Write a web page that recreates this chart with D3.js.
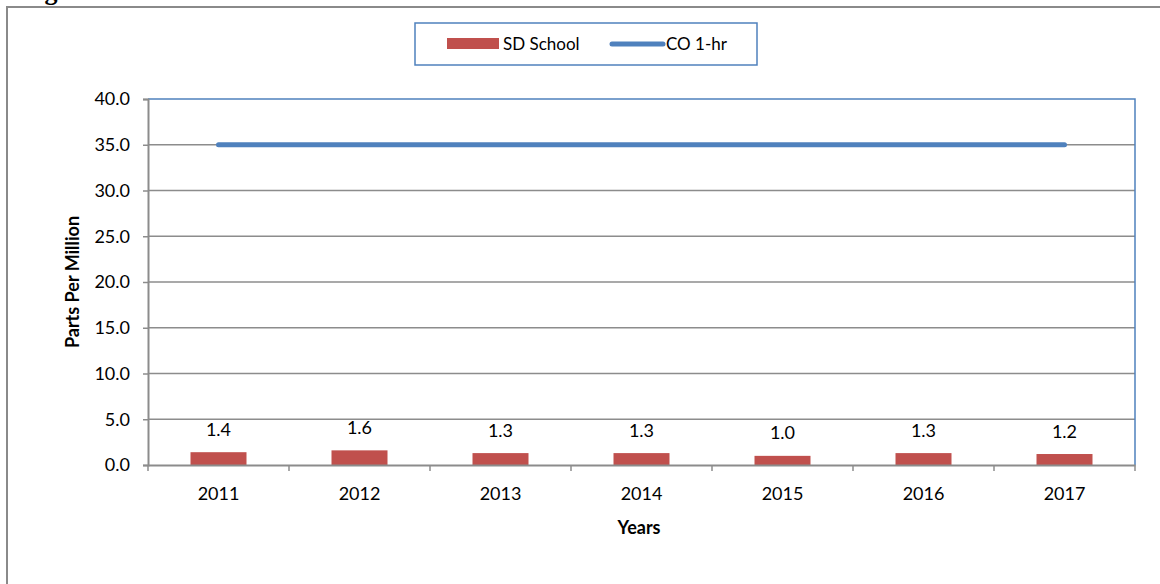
<!DOCTYPE html>
<html><head><meta charset="utf-8">
<script src="https://cdn.jsdelivr.net/npm/d3@7"></script>
<style>body{margin:0;background:#fff}svg{display:block}</style>
</head><body><svg id="c" width="1160" height="584"></svg>
<script>
const years = ["2011","2012","2013","2014","2015","2016","2017"];
const sdSchool = [1.4, 1.6, 1.3, 1.3, 1.0, 1.3, 1.2];
const coStandard = [35, 35, 35, 35, 35, 35, 35];
const yTicks = [0, 5, 10, 15, 20, 25, 30, 35, 40];
const seriesNames = ["SD School", "CO 1-hr"];
const titleText = "Figure 4-1   Carbon Monoxide 1-Hour Concentrations";

const svg = d3.select("#c");
const font = "Lato, 'Open Sans', sans-serif";
const red = "#C0504D", blue = "#4F81BD", grid = "#8C8C8C";
const L = 148, R = 1135, T = 99, B = 465;

// cut-off title (as in the reference, only its lower edge shows)
svg.append("text").attr("x", 15).attr("y", 0.3).attr("font-family", "'Liberation Serif', serif")
  .attr("font-weight", "bold").attr("font-size", 26).attr("fill", "#000")
  .attr("textLength", 740).attr("lengthAdjust", "spacing").text(titleText);

// outer frame
svg.append("rect").attr("x", 7).attr("y", 7).attr("width", 1200).attr("height", 700)
  .attr("fill", "none").attr("stroke", "#8a8a8a").attr("stroke-width", 2);

const x = d3.scaleBand().domain(years).range([L, R]);
const y = d3.scaleLinear().domain([0, 40]).range([B, T]);

// gridlines
svg.append("g").selectAll("line").data(yTicks.filter(d => d > 0 && d < 40)).join("line")
  .attr("x1", L).attr("x2", R).attr("y1", d => y(d)).attr("y2", d => y(d))
  .attr("stroke", grid).attr("stroke-width", 1.5);

// plot area border top/right (blue)
svg.append("path").attr("d", `M${L},${y(40)}H${R}V${B}`).attr("fill", "none")
  .attr("stroke", blue).attr("stroke-width", 1.5);

// y axis
const yAxis = svg.append("g").attr("transform", `translate(${L},0)`)
  .call(d3.axisLeft(y).tickValues(yTicks).tickFormat(d3.format(".1f")).tickSize(5).tickPadding(13));
yAxis.select(".domain").attr("stroke", grid).attr("stroke-width", 2);
yAxis.selectAll(".tick line").attr("stroke", grid).attr("stroke-width", 1.5);
yAxis.selectAll("text").attr("font-family", font).attr("font-size", 18).attr("fill", "#000");

// bars
svg.append("g").selectAll("rect").data(sdSchool).join("rect")
  .attr("x", (d, i) => x(years[i]) + x.bandwidth() / 2 - 28)
  .attr("width", 56)
  .attr("y", d => y(d)).attr("height", d => B - y(d))
  .attr("fill", red);

// x axis
const xAxis = svg.append("g").attr("transform", `translate(0,${B})`)
  .call(d3.axisBottom(x).tickSize(0).tickPadding(22));
xAxis.select(".domain").attr("stroke", grid).attr("stroke-width", 2);
xAxis.selectAll("text").attr("font-family", font).attr("font-size", 18).attr("fill", "#000");
const bounds = years.map(d => x(d)).concat([R]);
svg.append("g").selectAll("line").data(bounds).join("line")
  .attr("x1", d => d).attr("x2", d => d).attr("y1", B).attr("y2", B + 6)
  .attr("stroke", grid).attr("stroke-width", 1.5);

// data labels
svg.append("g").selectAll("text").data(sdSchool).join("text")
  .attr("x", (d, i) => x(years[i]) + x.bandwidth() / 2)
  .attr("y", d => y(d) - 16.5)
  .attr("text-anchor", "middle").attr("font-family", font).attr("font-size", 18).attr("fill", "#000")
  .text(d => d3.format(".1f")(d));

// standard line
svg.append("path").datum(coStandard)
  .attr("d", d3.line().x((d, i) => x(years[i]) + x.bandwidth() / 2).y(d => y(d)))
  .attr("fill", "none").attr("stroke", blue).attr("stroke-width", 5).attr("stroke-linecap", "round");

// axis titles
svg.append("text").attr("transform", `translate(79,${(T + B) / 2}) rotate(-90)`)
  .attr("text-anchor", "middle").attr("font-family", font).attr("font-weight", "bold")
  .attr("font-size", 18).text("Parts Per Million");
svg.append("text").attr("x", 639).attr("y", 534).attr("text-anchor", "middle")
  .attr("font-family", font).attr("font-weight", "bold").attr("font-size", 18).text("Years");

// legend
const lg = svg.append("g");
lg.append("rect").attr("x", 415).attr("y", 23).attr("width", 342).attr("height", 42)
  .attr("fill", "#fff").attr("stroke", blue).attr("stroke-width", 1.5);
lg.append("rect").attr("x", 447).attr("y", 38).attr("width", 52).attr("height", 11).attr("fill", red);
lg.append("text").attr("x", 503).attr("y", 50).attr("font-family", font).attr("font-size", 17).text(seriesNames[0]);
lg.append("line").attr("x1", 612).attr("x2", 663).attr("y1", 44).attr("y2", 44)
  .attr("stroke", blue).attr("stroke-width", 5).attr("stroke-linecap", "round");
lg.append("text").attr("x", 666).attr("y", 50).attr("font-family", font).attr("font-size", 17).text(seriesNames[1]);
</script></body></html>
